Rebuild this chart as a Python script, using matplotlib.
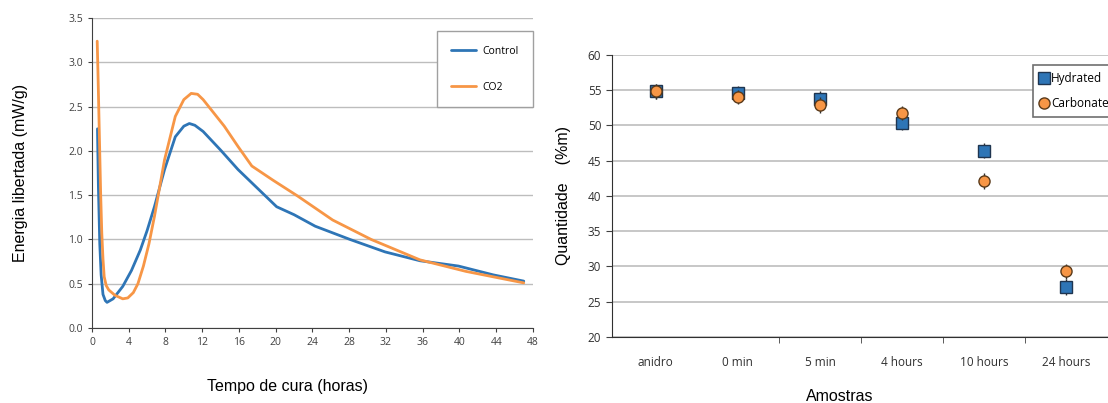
import matplotlib.pyplot as plt

# heat flow curves (hours, mW/g)
control_t = [0.6, 0.7, 0.85, 1.0, 1.2, 1.45, 1.64, 2.3, 3.35, 4.3, 5.26, 6.0, 6.8, 7.9,
             9.07, 10.0, 10.6, 11.2, 12.1, 14.0, 15.9, 18.2, 20.1, 22.0, 24.3, 28.1,
             31.9, 35.7, 39.9, 43.7, 47.0]
control_q = [2.25, 1.6, 0.95, 0.6, 0.38, 0.31, 0.29, 0.33, 0.47, 0.65, 0.88, 1.1, 1.37, 1.79,
             2.16, 2.28, 2.31, 2.29, 2.22, 2.01, 1.79, 1.56, 1.37, 1.28, 1.15, 1.00,
             0.86, 0.76, 0.70, 0.60, 0.53]
co2_t = [0.57, 0.65, 0.8, 0.95, 1.07, 1.2, 1.33, 1.55, 1.83, 2.5, 3.35, 3.9, 4.5, 5.0,
         5.6, 6.2, 6.8, 7.9, 9.07, 10.0, 10.8, 11.5, 12.1, 14.4, 15.9, 17.4, 19.7,
         22.4, 26.2, 30.4, 35.7, 40.7, 47.0]
co2_q = [3.24, 2.9, 2.2, 1.5, 1.07, 0.78, 0.58, 0.48, 0.43, 0.37, 0.33, 0.34, 0.40, 0.50,
         0.70, 0.95, 1.26, 1.90, 2.39, 2.58, 2.65, 2.64, 2.58, 2.28, 2.05, 1.83, 1.67,
         1.49, 1.22, 1.00, 0.77, 0.64, 0.51]

# composition per sample (%m)
samples = ["anidro", "0 min", "5 min", "4 hours", "10 hours", "24 hours"]
hydrated = [54.8, 54.6, 53.8, 50.3, 46.4, 27.1]
carbonated = [54.8, 54.0, 52.9, 51.7, 42.1, 29.3]
err = [1.0, 1.0, 1.1, 1.0, 1.1, 1.1]

blue = "#2E75B6"
orange = "#F79646"
grid_c = "#BDBDBD"
tick_font = ["Open Sans", "DejaVu Sans"]
label_font = ["Liberation Sans", "DejaVu Sans"]

fig = plt.figure(figsize=(11.08, 4.03), dpi=100)

# --- heat flow ---
ax = fig.add_axes([0.083, 0.186, 0.398, 0.769])
ax.plot(control_t, control_q, color=blue, lw=2.0, label="Control", solid_capstyle="round")
ax.plot(co2_t, co2_q, color=orange, lw=2.0, label="CO2", solid_capstyle="round")
ax.set_xlim(0, 48)
ax.set_ylim(0, 3.5)
ax.set_xticks(range(0, 49, 4))
ax.set_yticks([i * 0.5 for i in range(8)])
ax.yaxis.set_major_formatter(plt.FuncFormatter(lambda v, _: f"{v:.1f}"))
ax.grid(axis="y", color=grid_c, lw=1)
ax.set_axisbelow(True)
for s in ("top", "right"):
    ax.spines[s].set_visible(False)
ax.spines["left"].set_color("#404040")
ax.spines["bottom"].set_color("#404040")
ax.tick_params(labelsize=7.5, length=3, color="#404040", labelcolor="#404040")
for t in ax.get_xticklabels() + ax.get_yticklabels():
    t.set_family(tick_font)
ax.set_xlabel("Tempo de cura (horas)", family=label_font, fontsize=11.5)
ax.xaxis.set_label_coords(0.444, -0.165)
ax.set_ylabel("Energia libertada (mW/g)", family=label_font, fontsize=11.5, labelpad=29)
leg = ax.legend(loc="upper left", bbox_to_anchor=(0.77, 0.975),
                labelspacing=2.4, handlelength=2.4, handletextpad=0.6, borderpad=1.4,
                fancybox=False, edgecolor="#A0A0A0", framealpha=1,
                prop={"family": tick_font, "size": 7.5})
leg.get_frame().set_linewidth(1)

# --- composition ---
ax = fig.add_axes([0.552, 0.164, 0.455, 0.700])
x = list(range(len(samples)))
ax.errorbar(x, hydrated, yerr=err, fmt="s", ms=8, mfc=blue, mec="#1F3550",
            mew=1, ecolor="#303030", elinewidth=1, capsize=0, label="Hydrated", zorder=3)
ax.errorbar(x, carbonated, yerr=err, fmt="o", ms=8, mfc=orange, mec="#5A3A1A",
            mew=1, ecolor="#303030", elinewidth=1, capsize=0, label="Carbonated", zorder=4)
ax.set_xlim(-0.537, 5.6)
ax.set_ylim(20, 60)
ax.set_yticks(range(20, 61, 5))
ax.set_xticks(x)
ax.set_xticklabels(samples)
ax.set_xticks([1.5, 2.5, 3.5, 4.5], minor=True)
ax.tick_params(axis="x", which="major", length=0, pad=14)
ax.tick_params(axis="x", which="minor", length=4, color="#404040", direction="out")
ax.tick_params(labelsize=8.5, labelcolor="#303030")
ax.tick_params(axis="y", length=4, color="#404040")
for t in ax.get_xticklabels() + ax.get_yticklabels():
    t.set_family(tick_font)
ax.grid(axis="y", color=grid_c, lw=1.2)
ax.set_axisbelow(True)
for s in ("top", "right"):
    ax.spines[s].set_visible(False)
ax.spines["left"].set_color("#303030")
ax.spines["bottom"].set_color("#303030")
ax.set_xlabel("Amostras", family=label_font, fontsize=11.5)
ax.xaxis.set_label_coords(0.453, -0.183)
ax.set_ylabel("Quantidade    (%m)", family=label_font, fontsize=11.5, labelpad=12)
handles, labels = ax.get_legend_handles_labels()
handles = [h[0] for h in handles]
leg = ax.legend(handles, labels, loc="upper left", bbox_to_anchor=(0.825, 0.985),
                handlelength=0.6, handletextpad=0.3, labelspacing=1.0, borderpad=0.6,
                fancybox=False, edgecolor="#707070", framealpha=1,
                prop={"family": tick_font, "size": 8.5})
leg.get_frame().set_linewidth(1.2)

fig.savefig("out.png", dpi=100)
